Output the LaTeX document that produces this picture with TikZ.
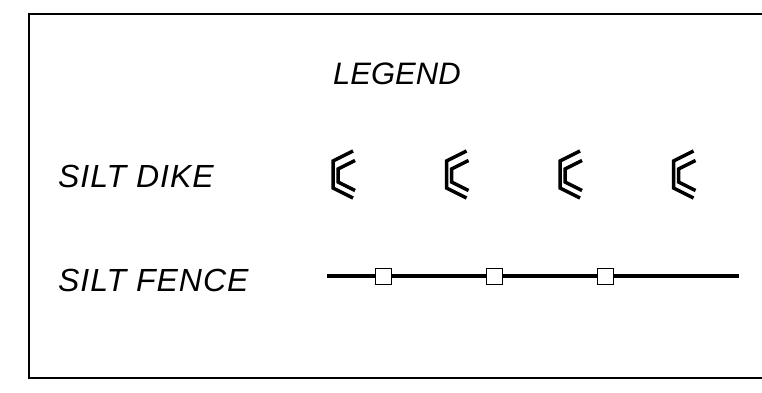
\documentclass[tikz,border=0pt]{standalone}
\usepackage{fontspec}
\setmainfont{Liberation Sans}

\begin{document}
\begin{tikzpicture}[x=1pt,y=-1pt]
        \tikzset{legend text/.style={anchor=base west,inner sep=0pt,
                font=\fontsize{32}{32}\selectfont\itshape\addfontfeatures{LetterSpace=3}},
            title text/.style={anchor=base west,inner sep=0pt,
                font=\fontsize{31}{31}\selectfont\itshape},
            frame line/.style={line width=2pt},
            dike/.style={line width=3.5pt,line join=miter},
            fence/.style={line width=4.5pt},
            post/.style={draw,fill=white,line width=1pt,minimum size=16pt,inner sep=0pt}}
        \useasboundingbox (0,0) rectangle (762,393);
        \draw[frame line] (762,14) -| (29,378) -- (762,378);
        % labels
        \node[title text] (legend) at (333,85) {LEGEND};
        \node[legend text] (dike label) at (58,187) {SILT DIKE};
        \node[legend text] (fence label) at (58,291) {SILT FENCE};
        % silt dike symbols
        \foreach \i in {0,...,3} {
            \begin{scope}[shift={(333+113.5*\i,161)}]
                \draw[dike] (20,-10) -- (0,0) -- (0,27) -- (20,37);
                \draw[dike] (22,-0.5) -- (5,8) -- (5,21) -- (22,29.5);
            \end{scope}
        }
        % silt fence
        \coordinate (fence start) at (327,276);
        \coordinate (fence end) at (739,276);
        \draw[fence] (fence start) -- (fence end);
        \foreach \i/\x in {1/383,2/494,3/605}
            \node[post] (post\i) at (\x,276) {};
    \end{tikzpicture}
\end{document}
